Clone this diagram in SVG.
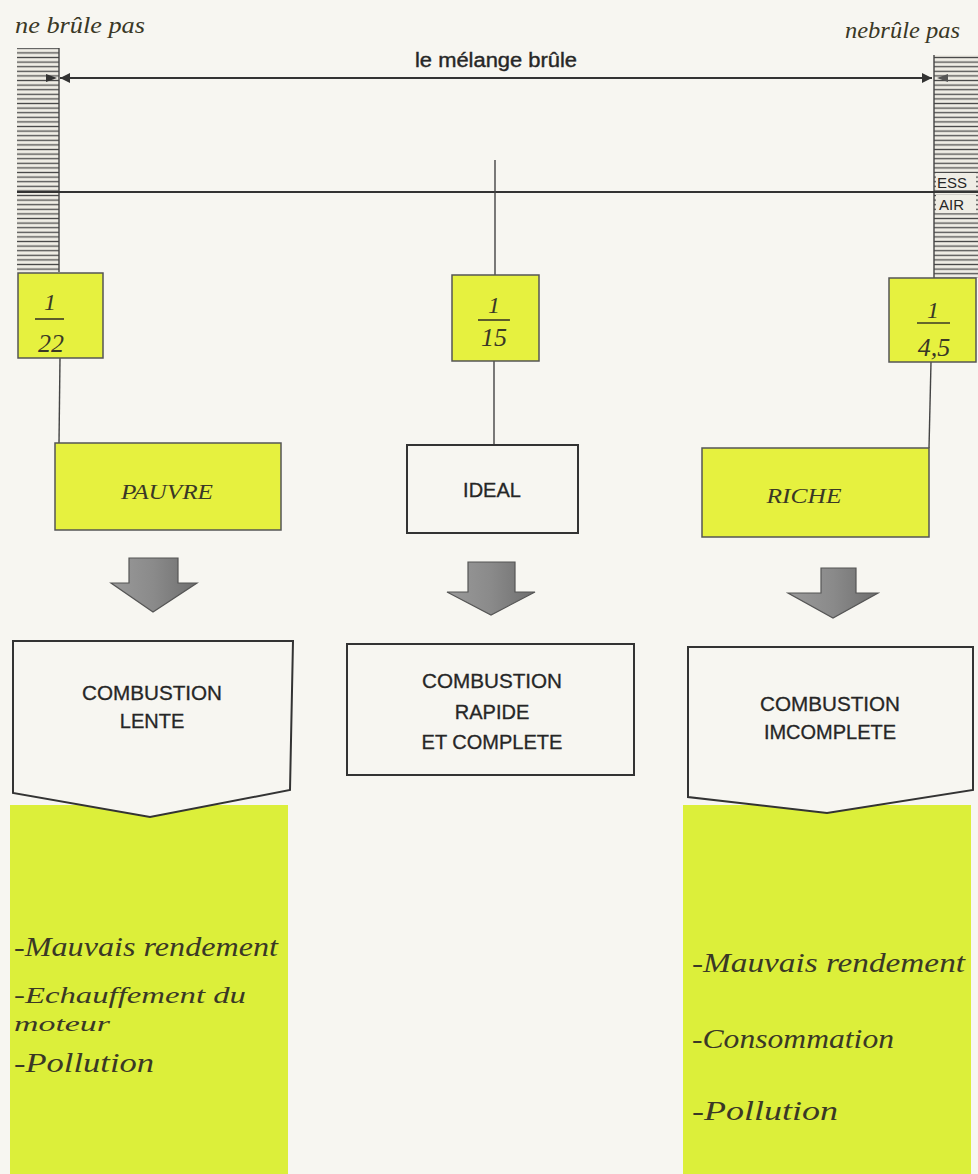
<svg xmlns="http://www.w3.org/2000/svg" width="978" height="1174" viewBox="0 0 978 1174">
<defs>
<style>
.ln{stroke:#333;stroke-width:2;fill:none}
.thin{stroke:#444;stroke-width:1.4;fill:none}
.ybox{fill:#e6f13f;stroke:#555;stroke-width:1.5}
.yfill{fill:#dcef3a}
.wbox{fill:#f7f6f1;stroke:#333;stroke-width:2}
.sans{font-family:"Liberation Sans",Arial,sans-serif;fill:#262626}
.hand{font-family:"Liberation Serif","DejaVu Serif",serif;font-style:italic;fill:#3a3826}
.garrow{fill:url(#gg);stroke:#555;stroke-width:1.2}
</style>
<pattern id="hatch" width="10" height="4.6" patternUnits="userSpaceOnUse">
<rect width="10" height="4.6" fill="#efede5"/>
<line x1="0" y1="2.3" x2="10" y2="2.3" stroke="#4a4a4a" stroke-width="1.3"/>
</pattern>
<linearGradient id="gg" x1="0" y1="0" x2="1" y2="0">
<stop offset="0" stop-color="#9a9a9a"/>
<stop offset="0.5" stop-color="#8a8a8a"/>
<stop offset="1" stop-color="#6e6e6e"/>
</linearGradient>
<marker id="ah" viewBox="0 0 10 10" refX="10" refY="5" markerWidth="12" markerHeight="10" markerUnits="userSpaceOnUse" orient="auto-start-reverse">
<path d="M0,0 L10,5 L0,10 Z" fill="#333"/>
</marker>
</defs>
<rect width="978" height="1174" fill="#f7f6f1"/>

<g id="limit-left">
<rect x="17" y="48" width="42" height="224" fill="url(#hatch)"/>
<line x1="59" y1="48" x2="59" y2="272" class="thin"/>
<text x="15" y="33" class="hand" font-size="24" textLength="130" lengthAdjust="spacingAndGlyphs">ne brûle pas</text>
</g>
<g id="limit-right">
<rect x="934" y="55" width="44" height="223" fill="url(#hatch)"/>
<line x1="934" y1="55" x2="934" y2="278" class="thin"/>
<text x="845" y="38" class="hand" font-size="24" textLength="115" lengthAdjust="spacingAndGlyphs">nebrûle pas</text>
<rect x="936" y="173" width="40" height="17" fill="#efede5"/>
<rect x="936" y="195" width="40" height="18" fill="#efede5"/>
<text x="937" y="188" class="sans" font-size="15">ESS</text>
<text x="939" y="210" class="sans" font-size="15">AIR</text>
</g>

<g id="connectors">
<line x1="60" y1="78" x2="932" y2="78" class="ln" stroke-width="1.8" marker-start="url(#ah)" marker-end="url(#ah)"/>
<path d="M46,74 L57,78 L46,82 Z" fill="#333"/>
<path d="M948,74 L937,78 L948,82 Z" fill="#555"/>
<line x1="17" y1="192" x2="978" y2="192" class="ln" stroke-width="2.2"/>
<line x1="495" y1="160" x2="495" y2="275" class="thin"/>
<line x1="60" y1="358" x2="59" y2="443" class="thin"/>
<line x1="494" y1="361" x2="494" y2="445" class="thin"/>
<line x1="931" y1="362" x2="929" y2="448" class="thin"/>
</g>

<text x="496" y="67" class="sans" font-size="20" text-anchor="middle" fill="#2a2a2a" stroke="#2a2a2a" stroke-width="0.4" textLength="162" lengthAdjust="spacingAndGlyphs">le mélange brûle</text>

<g id="ratio-22">
<rect x="18" y="273" width="85" height="85" class="ybox"/>
<text x="50" y="310" class="hand" font-size="24" text-anchor="middle">1</text>
<line x1="35" y1="319" x2="64" y2="319" stroke="#3a3826" stroke-width="1.6"/>
<text x="51" y="352" class="hand" font-size="26" text-anchor="middle">22</text>
</g>
<g id="ratio-15">
<rect x="452" y="275" width="87" height="86" class="ybox"/>
<text x="494" y="313" class="hand" font-size="24" text-anchor="middle">1</text>
<line x1="478" y1="320" x2="510" y2="320" stroke="#3a3826" stroke-width="1.6"/>
<text x="494" y="346" class="hand" font-size="26" text-anchor="middle">15</text>
</g>
<g id="ratio-45">
<rect x="889" y="278" width="87" height="84" class="ybox"/>
<text x="933" y="318" class="hand" font-size="24" text-anchor="middle">1</text>
<line x1="917" y1="323" x2="950" y2="323" stroke="#3a3826" stroke-width="1.6"/>
<text x="934" y="356" class="hand" font-size="26" text-anchor="middle">4,5</text>
</g>

<g id="pauvre">
<rect x="55" y="443" width="226" height="87" class="ybox"/>
<text x="167" y="499" class="hand" font-size="22" text-anchor="middle" font-style="normal" textLength="92" lengthAdjust="spacingAndGlyphs">PAUVRE</text>
</g>
<g id="ideal">
<rect x="407" y="445" width="171" height="88" class="wbox"/>
<text x="492" y="497" class="sans" font-size="20" text-anchor="middle" stroke="#262626" stroke-width="0.3">IDEAL</text>
</g>
<g id="riche">
<rect x="702" y="448" width="227" height="89" class="ybox"/>
<text x="804" y="503" class="hand" font-size="22" text-anchor="middle" font-style="normal" textLength="75" lengthAdjust="spacingAndGlyphs">RICHE</text>
</g>

<g id="arrow-left">
<path class="garrow" d="M129,558 L178,558 L178,583 L197,583 L153,612 L111,583 L129,583 Z"/>
</g>
<g id="arrow-center">
<path class="garrow" d="M468,562 L515,562 L515,592 L535,592 L491,615 L447,592 L468,592 Z"/>
</g>
<g id="arrow-right">
<path class="garrow" d="M821,568 L856,568 L856,593 L878,593 L833,618 L788,593 L821,593 Z"/>
</g>

<g id="effects-left">
<rect x="10" y="805" width="278" height="369" class="yfill"/>
<text x="14" y="956" class="hand" font-size="27" textLength="264" lengthAdjust="spacingAndGlyphs">-Mauvais rendement</text>
<text x="14" y="1003" class="hand" font-size="24" textLength="232" lengthAdjust="spacingAndGlyphs">-Echauffement  du</text>
<text x="14" y="1031" class="hand" font-size="20" textLength="96" lengthAdjust="spacingAndGlyphs">moteur</text>
<text x="14" y="1072" class="hand" font-size="27" textLength="140" lengthAdjust="spacingAndGlyphs">-Pollution</text>
</g>
<g id="effects-right">
<rect x="683" y="805" width="288" height="369" class="yfill"/>
<text x="692" y="972" class="hand" font-size="27" textLength="273" lengthAdjust="spacingAndGlyphs">-Mauvais rendement</text>
<text x="692" y="1048" class="hand" font-size="27" textLength="202" lengthAdjust="spacingAndGlyphs">-Consommation</text>
<text x="692" y="1120" class="hand" font-size="27" textLength="146" lengthAdjust="spacingAndGlyphs">-Pollution</text>
</g>

<g id="comb-lente">
<path class="wbox" d="M13,641 L293,641 L290,790 L150,817 L13,793 Z"/>
<text x="152" y="700" class="sans" font-size="20" text-anchor="middle" stroke="#262626" stroke-width="0.3" textLength="140" lengthAdjust="spacingAndGlyphs">COMBUSTION</text>
<text x="152" y="728" class="sans" font-size="20" text-anchor="middle" stroke="#262626" stroke-width="0.3">LENTE</text>
</g>
<g id="comb-rapide">
<rect x="347" y="644" width="287" height="131" class="wbox"/>
<text x="492" y="688" class="sans" font-size="20" text-anchor="middle" stroke="#262626" stroke-width="0.3" textLength="140" lengthAdjust="spacingAndGlyphs">COMBUSTION</text>
<text x="492" y="719" class="sans" font-size="20" text-anchor="middle" stroke="#262626" stroke-width="0.3">RAPIDE</text>
<text x="492" y="749" class="sans" font-size="20" text-anchor="middle" stroke="#262626" stroke-width="0.3">ET COMPLETE</text>
</g>
<g id="comb-incomplete">
<path class="wbox" d="M688,647 L973,647 L973,790 L827,813 L688,797 Z"/>
<text x="830" y="711" class="sans" font-size="20" text-anchor="middle" stroke="#262626" stroke-width="0.3" textLength="140" lengthAdjust="spacingAndGlyphs">COMBUSTION</text>
<text x="830" y="739" class="sans" font-size="20" text-anchor="middle" stroke="#262626" stroke-width="0.3">IMCOMPLETE</text>
</g>
</svg>
